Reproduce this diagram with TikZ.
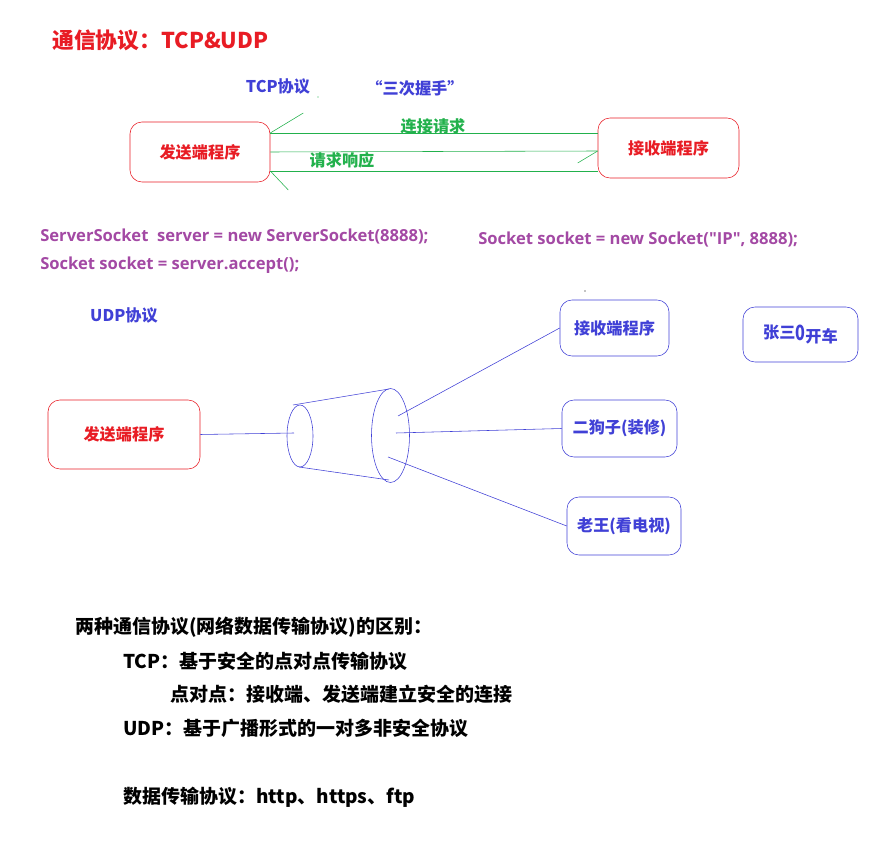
\documentclass[tikz,border=0pt]{standalone}
\usepackage{fontspec}
\setmainfont{Noto Sans CJK SC}
\newfontfamily\codefont{Open Sans}
\usepackage{tikz}

\definecolor{titlered}{RGB}{232,28,36}
\definecolor{lineblue}{RGB}{64,64,214}
\definecolor{tcpgreen}{RGB}{34,177,76}
\definecolor{codepurple}{RGB}{163,73,164}

\begin{document}
\begin{tikzpicture}[x=0.025cm, y=-0.025cm,
    redbox/.style={draw=titlered, rounded corners=0.3cm, text=titlered, font=\fontsize{11.5}{13}\selectfont\bfseries},
    bluebox/.style={draw=lineblue, rounded corners=0.3cm, text=lineblue, font=\fontsize{11.5}{13}\selectfont\bfseries},
    bluelabel/.style={text=lineblue, font=\fontsize{11.5}{13}\selectfont\bfseries},
    greenlabel/.style={text=tcpgreen, font=\fontsize{11.5}{13}\selectfont\bfseries},
    code/.style={anchor=west, inner xsep=0pt, text=codepurple, font=\codefont\fontsize{11.8}{14}\selectfont\bfseries},
    note/.style={anchor=west, inner xsep=0pt, font=\fontsize{13.5}{16}\selectfont\bfseries}]
    \useasboundingbox (0,0) rectangle (877,853);

    % TCP
    \node[anchor=west, inner xsep=0pt, text=titlered, font=\fontsize{15.5}{19}\selectfont\bfseries] (title) at (52,40) {通信协议：TCP\&UDP};
    \node[bluelabel] (tcp) at (278,86) {TCP协议};
    \node[bluelabel] (shake) at (415,88) {“三次握手”};
    \node[redbox, minimum width=3.5cm, minimum height=1.5cm] (sender) at (200,152) {发送端程序};
    \node[redbox, minimum width=3.525cm, minimum height=1.5cm] (receiver) at (668.5,148) {接收端程序};
    \draw[tcpgreen] (sender.east |- 0,133) -- (receiver.west |- 0,133);
    \draw[tcpgreen] (sender.east |- 0,152) -- (receiver.west |- 0,151);
    \draw[tcpgreen] (sender.east |- 0,171) -- (receiver.west |- 0,171);
    \draw[tcpgreen] (sender.east |- 0,133) -- ++(33,-20);
    \draw[tcpgreen] (receiver.west |- 0,151) -- ++(-20,12);
    \draw[tcpgreen] (sender.east |- 0,171) -- ++(18,19);
    \node[greenlabel] (conn) at (433,126) {连接请求};
    \node[greenlabel] (resp) at (342,160) {请求响应};
    \fill[tcpgreen] (318,97) circle (0.6);

    % code
    \node[code] (server) at (40,237) {ServerSocket\ \ server = new ServerSocket(8888);};
    \node[code] (accept) at (40,265) {Socket socket = server.accept();};
    \node[code] (client) at (478,240) {Socket socket = new Socket("IP", 8888);};

    % UDP
    \node[bluelabel] (udp) at (124,315) {UDP协议};
    \fill[black] (585,291) circle (0.6);
    \node[redbox, minimum width=3.8cm, minimum height=1.725cm] (udpsender) at (124,434.5) {发送端程序};
    \node[bluebox, minimum width=2.725cm, minimum height=1.4cm] (recv) at (614.5,328) {接收端程序};
    \node[bluebox, minimum width=2.875cm, minimum height=1.425cm] (ergou) at (619.5,428.5) {二狗子(装修)};
    \node[bluebox, minimum width=2.85cm, minimum height=1.45cm] (laowang) at (624,526) {老王(看电视)};
    \node[bluebox, minimum width=2.875cm, minimum height=1.375cm] (zhangsan) at (800.5,334.5) {张三\raisebox{-1pt}{\scalebox{1}[1.3]{0}}\raisebox{-3pt}{开车}};

    % funnel
    \coordinate (mouth) at (294,433);
    \draw[lineblue] (300,436) ellipse (13 and 31);
    \draw[lineblue] (390.5,435.5) ellipse (19 and 47);
    \draw[lineblue] (293,405) -- (389,389);
    \draw[lineblue] (299,467) -- (389,480);
    \draw[lineblue] (udpsender.east) -- (mouth);
    \draw[lineblue] (398,416) -- (recv.west);
    \draw[lineblue] (396,433) -- (ergou.west);
    \draw[lineblue] (388,457) -- (laowang.west);

    % notes
    \node[note] (diff) at (75,627) {两种通信协议(网络数据传输协议)的区别：};
    \node[note] (tcpnote) at (123,661) {TCP：基于安全的点对点传输协议};
    \node[note] (p2p) at (170,694) {点对点：接收端、发送端建立安全的连接};
    \node[note] (udpnote) at (123,728) {UDP：基于广播形式的一对多非安全协议};
    \node[note] (proto) at (123,797) {数据传输协议：http、https、ftp};
\end{tikzpicture}
\end{document}
